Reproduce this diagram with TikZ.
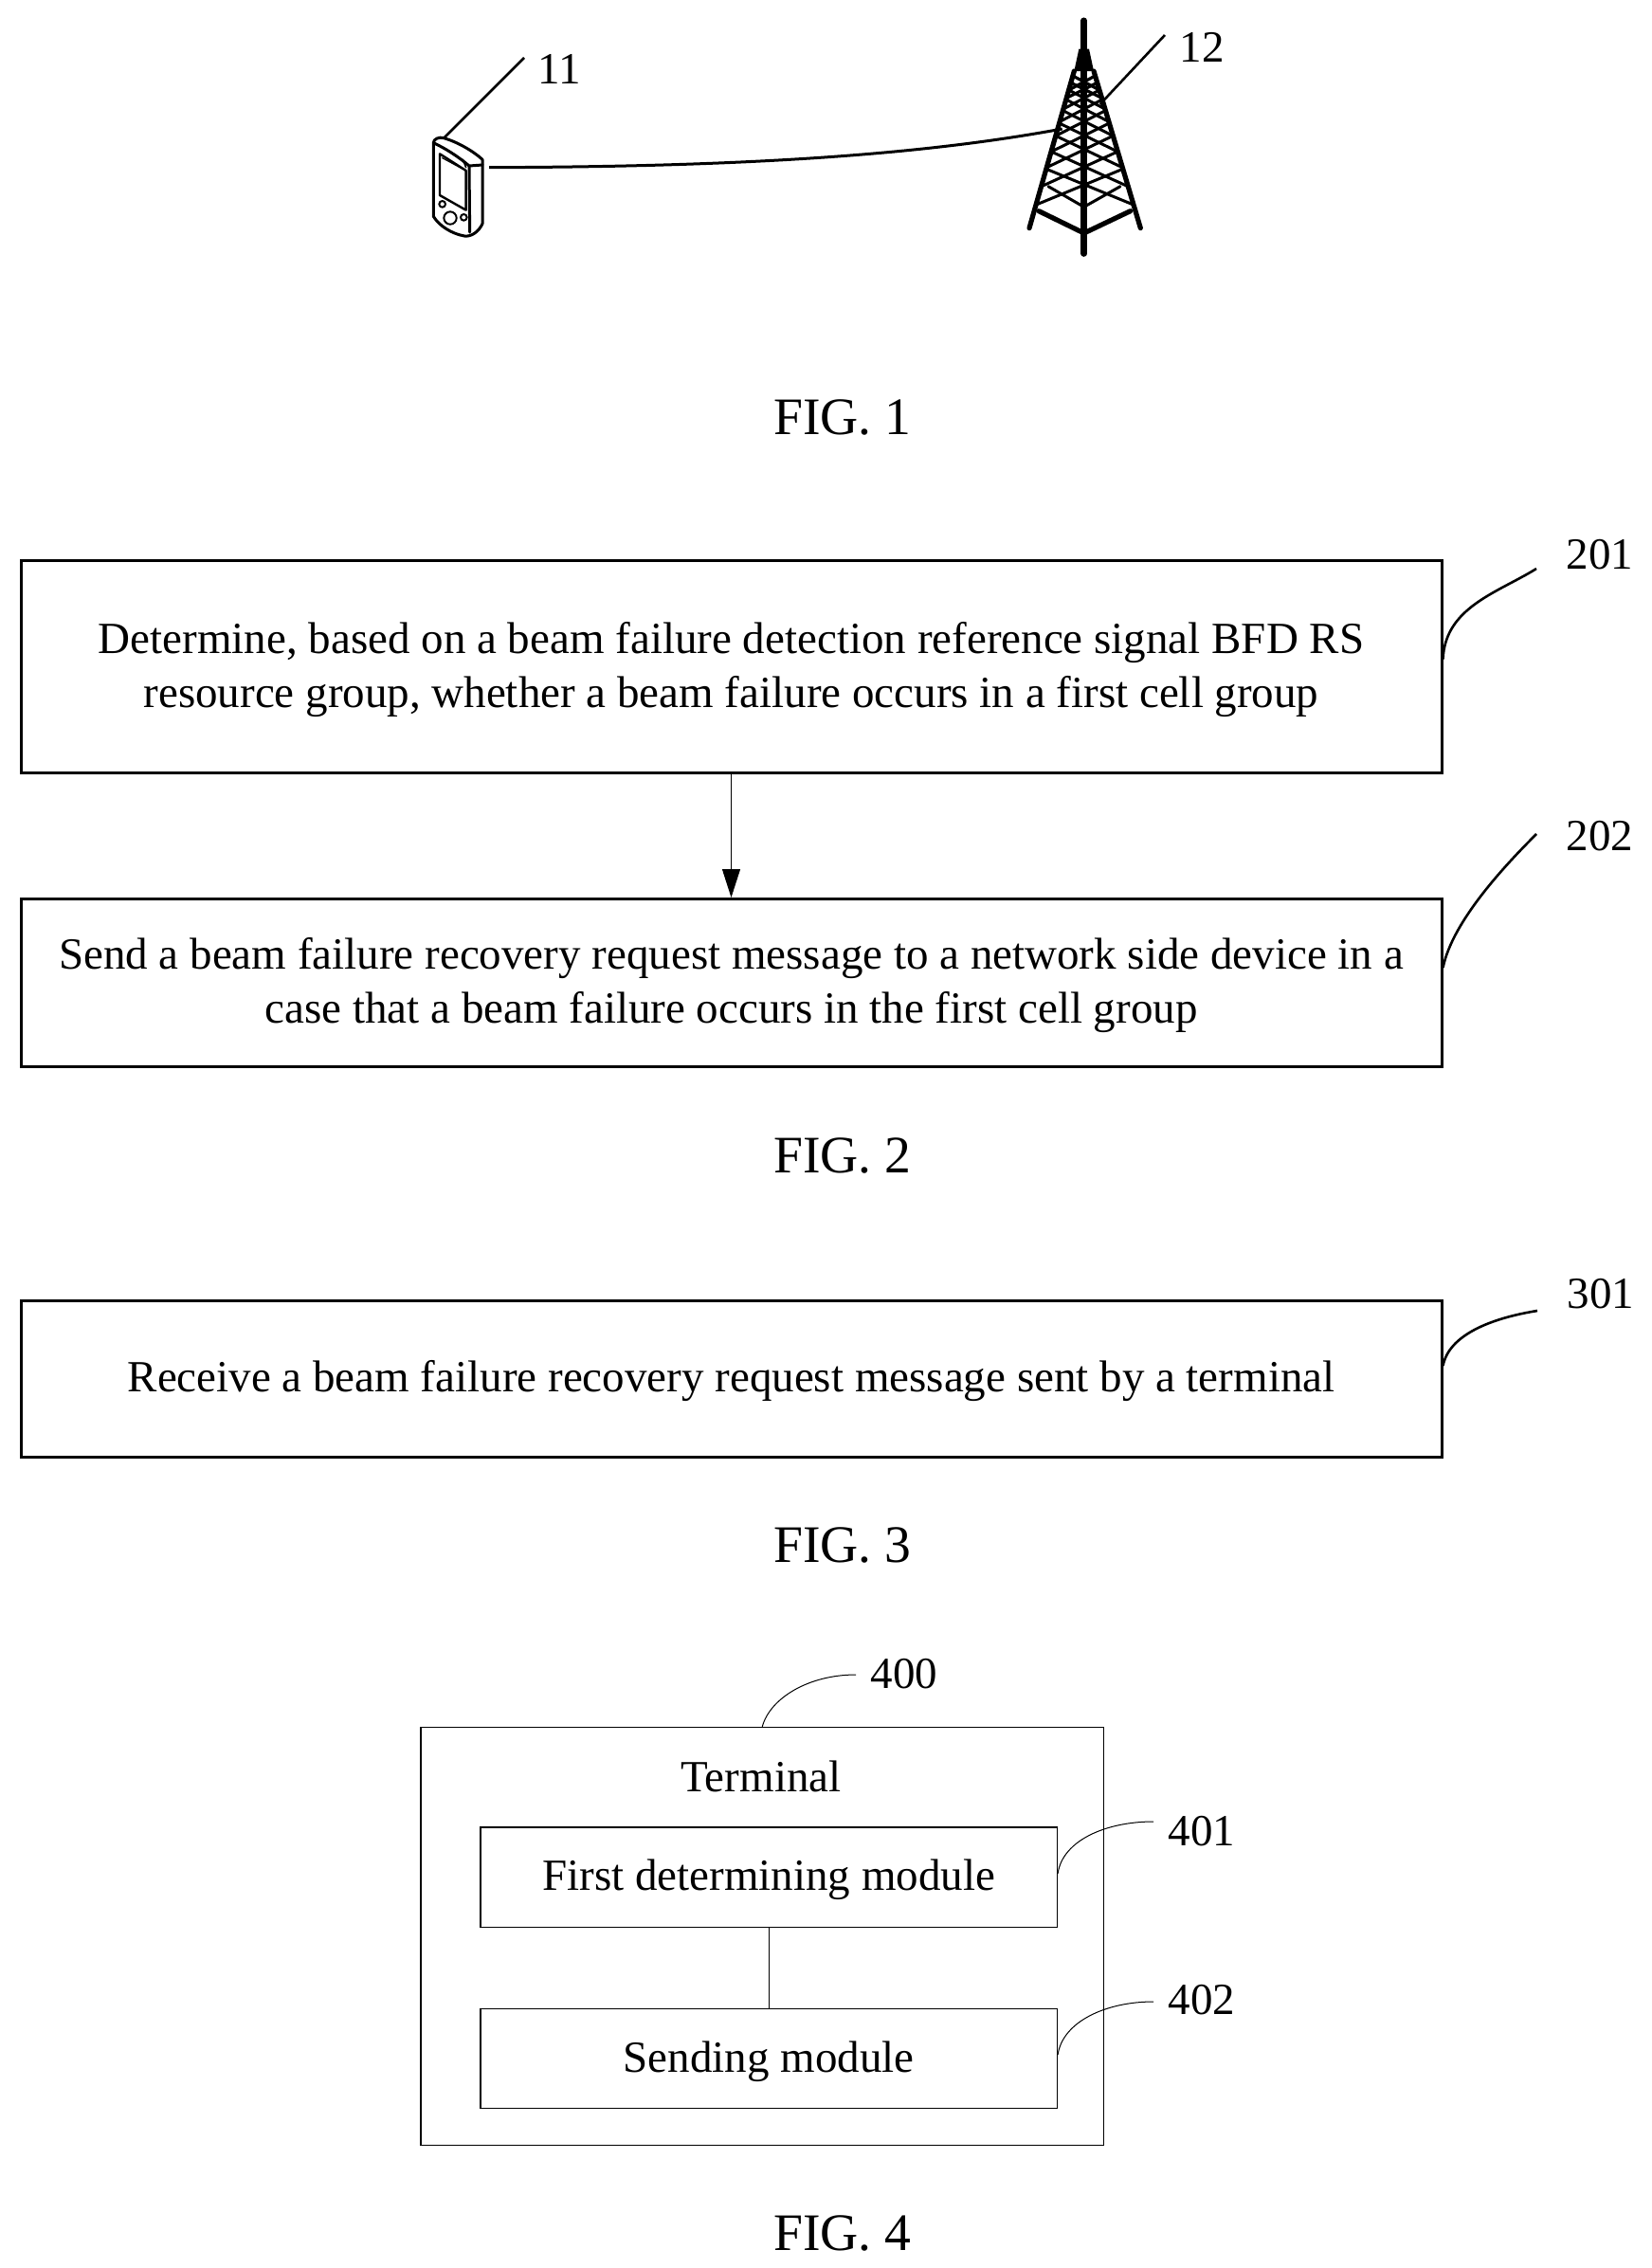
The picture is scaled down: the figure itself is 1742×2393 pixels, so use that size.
\documentclass[tikz,border=0pt]{standalone}
\usepackage{fontspec}
\setmainfont{Liberation Serif}
\usetikzlibrary{arrows.meta}
\tikzset{
  boxthick/.style={draw=black,line width=1.5pt,inner sep=0pt},
  boxthin/.style={draw=black,line width=0.6pt,inner sep=0pt},
  boxtext/.style={inner sep=0pt,align=center,font=\fontsize{23.5}{28.5}\selectfont},
  reflabel/.style={inner sep=0pt,font=\fontsize{23.5}{26}\selectfont},
  figlabel/.style={inner sep=0pt,font=\fontsize{27.8}{30}\selectfont},
  leader/.style={line width=1.3pt},
  thinleader/.style={line width=0.5pt},
  art/.style={line width=1.5pt,line join=round,line cap=round},
  zoomart/.style={x=0.16667pt,y=-0.16667pt}
}
\begin{document}
\begin{tikzpicture}[x=0.5pt,y=-0.5pt]
\useasboundingbox[fill=white] (0,0) rectangle (1742,2393);

% FIG. 1 terminal
\begin{scope}[shift={(400,0)},zoomart,art]
  \coordinate (phonetop) at (205,437);
  \coordinate (phoneside) at (348,530);
  \draw (172,452) .. controls (172,440) and (190,432) .. (205,437) .. controls (250,450) and (300,480) .. (327,505)
        -- (327,708) .. controls (315,735) and (290,750) .. (270,747) .. controls (230,740) and (190,715) .. (172,685) -- cycle;
  \draw (172,452) .. controls (210,470) and (250,495) .. (285,525) -- (327,522);
  \draw (285,525) -- (287,735);
  \draw[line width=1.2pt] (192,487) -- (275,540) -- (275,665) -- (192,618) -- cycle;
  \draw[line width=0.6pt] (200,500) -- (265,535);
  \draw[line width=0.8pt] (265,505) -- (275,530);
  \draw[line width=1pt] (200,646) circle (10);
  \draw[line width=1pt] (268,688) circle (10);
  \draw[line width=1pt] (225,690) circle (20);
\end{scope}

% FIG. 1 tower
\begin{scope}[shift={(1000,0)},zoomart,line cap=round,line join=round]
  \fill (415,155) -- (447,155) -- (462,225) -- (400,225) -- cycle;
  \draw[line width=3.2pt] (431,65) -- (431,803);
  \draw[line width=2.6pt] (400,225) -- (258,722);
  \draw[line width=2.6pt] (462,225) -- (610,722);
  \draw[line width=2.6pt] (288,668) -- (431,738) -- (578,668);
  \draw[line width=1.5pt] (318,590) -- (431,655) -- (546,590);
  \foreach \u/\l/\w in {535/648/1.5,480/590/1.5,430/530/1.5,390/480/1.5,350/430/1.5,315/385/1.5,285/345/1.5,262/310/1.6,240/285/1.6}{
    \pgfmathsetmacro{\lu}{400-(\u-225)*0.284}
    \pgfmathsetmacro{\ru}{462+(\u-225)*0.296}
    \pgfmathsetmacro{\ll}{400-(\l-225)*0.284}
    \pgfmathsetmacro{\rl}{462+(\l-225)*0.296}
    \draw[line width=\w pt] (\lu,\u) -- (\rl,\l);
    \draw[line width=\w pt] (\ru,\u) -- (\ll,\l);
  }
  \coordinate (towerleft) at (362,408);
  \coordinate (towerright) at (482,330);
\end{scope}

\coordinate (end11) at (553,61);
\coordinate (end12) at (1229,37);
\node[reflabel] (n11) at (590,73) {11};
\node[reflabel] (n12) at (1268,50) {12};
\draw[leader] (phonetop) -- (end11);
\draw[leader] (towerright) -- (end12);
\draw[line width=1.5pt] (phoneside) .. controls (800,176) and (980,162) .. (towerleft);
\node[figlabel] (fig1) at (889,440) {FIG. 1};

% FIG. 2
\node[boxthick,minimum width=1499pt*0.5,minimum height=224pt*0.5] (b201) at (771.5,703.5) {};
\node[boxtext] (t201) at (771.5,706.5)
  {Determine, based on a beam failure detection reference signal BFD RS\\resource group, whether a beam failure occurs in a first cell group};
\node[boxthick,minimum width=1499pt*0.5,minimum height=177pt*0.5] (b202) at (771.5,1037) {};
\node[boxtext] (t202) at (771.5,1040)
  {Send a beam failure recovery request message to a network side device in a\\case that a beam failure occurs in the first cell group};
\draw[line width=0.5pt,-{Triangle[length=15pt,width=9.5pt]}] (b201) -- (b202);
\node[reflabel] (n201) at (1688,585) {201};
\node[reflabel] (n202) at (1688,882) {202};
\node[reflabel] (n301) at (1689,1365) {301};
\coordinate (end201) at (1621,600);
\coordinate (end202) at (1621,880);
\draw[leader] ([yshift=4pt]b201.east) .. controls +(2,-55) and +(-40,25) .. (end201);
\draw[leader] ([yshift=8pt]b202.east) .. controls +(10,-50) and +(-30,30) .. (end202);
\node[figlabel] (fig2) at (889,1219) {FIG. 2};

% FIG. 3
\node[boxthick,minimum width=1499pt*0.5,minimum height=165pt*0.5] (b301) at (771.5,1455) {};
\node[boxtext] (t301) at (771.5,1457)
  {Receive a beam failure recovery request message sent by a terminal};
\coordinate (end301) at (1622,1383);
\draw[leader] ([yshift=7pt]b301.east) .. controls +(6,-32) and +(-50,8) .. (end301);
\node[figlabel] (fig3) at (889,1630) {FIG. 3};

% FIG. 4
\node[boxthin,minimum width=720.5pt*0.5,minimum height=441pt*0.5] (outer) at (804.25,2043) {};
\node[boxtext] (term) at (803,1874) {Terminal};
\node[boxthin,minimum width=608.5pt*0.5,minimum height=105.5pt*0.5] (m401) at (811.25,1980.75) {};
\node[boxtext] (t401) at (811.25,1983.5) {First determining module};
\node[boxthin,minimum width=608.5pt*0.5,minimum height=105pt*0.5] (m402) at (811.25,2172) {};
\node[boxtext] (t402) at (811.25,2175) {Sending module};
\draw[line width=0.5pt] (m401) -- (m402);
\node[reflabel] (n400) at (954,1766) {400};
\node[reflabel] (n401) at (1268,1932) {401};
\node[reflabel] (n402) at (1268,2110) {402};
\coordinate (end400) at (903,1767);
\coordinate (end401) at (1217,1922);
\coordinate (end402) at (1217,2112);
\draw[thinleader] (outer.north) .. controls +(8,-30) and +(-50,0) .. (end400);
\draw[thinleader] ([yshift=2pt]m401.east) .. controls +(5,-35) and +(-50,0) .. (end401);
\draw[thinleader] ([yshift=2pt]m402.east) .. controls +(5,-35) and +(-50,0) .. (end402);
\node[figlabel] (fig4) at (889,2356) {FIG. 4};
\end{tikzpicture}
\end{document}
